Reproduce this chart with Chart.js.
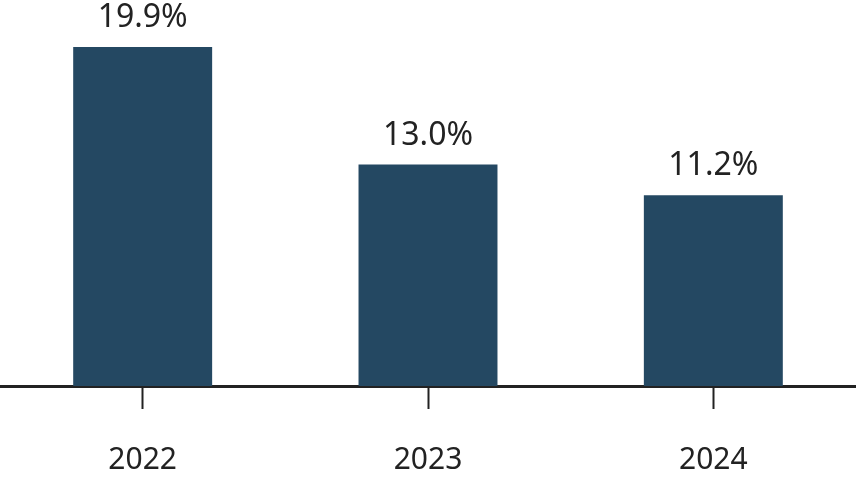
<!DOCTYPE html>
<html lang="en">
<head>
    <meta charset="UTF-8">
    <title>Bar chart</title>
    <script src="https://cdn.jsdelivr.net/npm/chart.js@4.4.0/dist/chart.umd.min.js"></script>
    <style>
        html, body { margin: 0; padding: 0; background: #fff; }
        #wrap { width: 856px; height: 489px; }
    </style>
</head>
<body>
    <div id="wrap"><canvas id="barChart"></canvas></div>

    <script>
        // data
        const years = ['2022', '2023', '2024'];
        const rates = [19.9, 13.0, 11.2];
        const rateLabels = ['19.9%', '13.0%', '11.2%'];

        // draw the value above each bar
        const valueLabels = {
            id: 'valueLabels',
            afterDatasetsDraw(chart) {
                const ctx = chart.ctx;
                const meta = chart.getDatasetMeta(0);
                ctx.save();
                ctx.font = '32px "Noto Sans"';
                ctx.fillStyle = '#222222';
                ctx.textAlign = 'center';
                ctx.textBaseline = 'alphabetic';
                meta.data.forEach((bar, i) => {
                    ctx.fillText(rateLabels[i], bar.x, bar.y - 20);
                });
                ctx.restore();
            }
        };

        const ctx = document.getElementById('barChart').getContext('2d');
        new Chart(ctx, {
            type: 'bar',
            data: {
                labels: years,
                datasets: [{
                    data: rates,
                    backgroundColor: '#244862',
                    barPercentage: 0.487,
                    categoryPercentage: 1
                }]
            },
            options: {
                responsive: true,
                maintainAspectRatio: false,
                animation: false,
                layout: { padding: 0 },
                plugins: {
                    legend: { display: false },
                    tooltip: { enabled: false }
                },
                scales: {
                    x: {
                        offset: true,
                        border: { display: true, color: '#222222', width: 3 },
                        grid: {
                            offset: false,
                            drawOnChartArea: false,
                            drawTicks: true,
                            tickLength: 23,
                            tickWidth: 2,
                            tickColor: '#222222'
                        },
                        ticks: {
                            color: '#222222',
                            font: { family: 'Noto Sans', size: 30 },
                            padding: 33
                        },
                        afterFit(scale) { scale.height = 103; }
                    },
                    y: {
                        display: false,
                        min: 0,
                        max: 22.66
                    }
                }
            },
            plugins: [valueLabels]
        });
    </script>
</body>
</html>
